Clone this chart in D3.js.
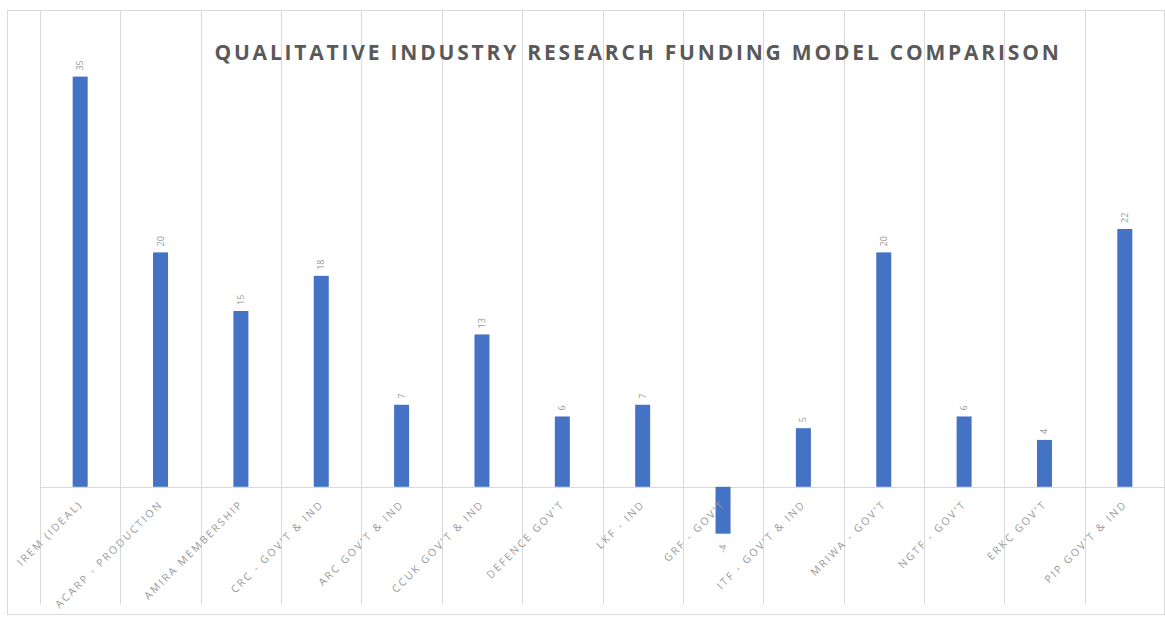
<!DOCTYPE html>
<html>
<head>
<meta charset="utf-8">
<script src="https://cdn.jsdelivr.net/npm/d3@7"></script>
<style>
  body { margin: 0; background: #fff; }
  text { font-family: "Open Sans", sans-serif; }
</style>
</head>
<body>
<div class="chart"></div>
<script>
// Data.
const categories = [
  'IREM (IDEAL)', 'ACARP - PRODUCTION', 'AMIRA MEMBERSHIP', "CRC - GOV'T & IND",
  "ARC GOV'T & IND", "CCUK GOV'T & IND", "DEFENCE GOV'T", 'LKF - IND',
  "GRF - GOV'T", "ITF - GOV'T & IND", "MRIWA - GOV'T", "NGTF - GOV'T",
  "ERKC GOV'T", "PIP GOV'T & IND"
];
const values = [35, 20, 15, 18, 7, 13, 6, 7, -4, 5, 20, 6, 4, 22];
const yDomain = [-10, 40];

const chartData = categories.map((c, i) => ({category: c, value: values[i]}));

// Layout.
const W = 1165, H = 622;
const plot = {left: 40, right: 1165, top: 10, bottom: 604};

const svg = d3.select('.chart')
  .append('svg')
  .attr('width', W)
  .attr('height', H);

// Scales.
const xScale = d3.scaleBand()
  .domain(categories)
  .range([plot.left, plot.right])
  .paddingInner(0)
  .paddingOuter(0);

const yScale = d3.scaleLinear()
  .domain(yDomain)
  .range([604, 18]);

// Frame.
svg.append('rect')
  .attr('x', 7.5).attr('y', 10.5)
  .attr('width', W - 8).attr('height', 604)
  .attr('fill', 'none')
  .attr('stroke', '#d9d9d9');

// Vertical gridlines at category boundaries.
const bounds = categories.map(c => xScale(c));
svg.append('g')
  .selectAll('line')
  .data(bounds)
  .enter()
  .append('line')
  .attr('x1', d => Math.round(d) + 0.5)
  .attr('x2', d => Math.round(d) + 0.5)
  .attr('y1', plot.top)
  .attr('y2', plot.bottom)
  .attr('stroke', '#d9d9d9');

// Zero line.
svg.append('line')
  .attr('x1', plot.left).attr('x2', plot.right)
  .attr('y1', Math.round(yScale(0)) + 0.5)
  .attr('y2', Math.round(yScale(0)) + 0.5)
  .attr('stroke', '#d9d9d9');

// Title.
svg.append('text')
  .attr('x', 638)
  .attr('y', 60)
  .attr('text-anchor', 'middle')
  .style('font-size', '21px')
  .style('font-weight', 'bold')
  .style('letter-spacing', '2.8px')
  .style('fill', '#595959')
  .text('QUALITATIVE INDUSTRY RESEARCH FUNDING MODEL COMPARISON');

// Bars.
const barW = 15;
svg.append('g')
  .selectAll('rect')
  .data(chartData)
  .enter()
  .append('rect')
  .attr('x', d => xScale(d.category) + xScale.bandwidth() / 2 - barW / 2)
  .attr('y', d => yScale(Math.max(0, d.value)))
  .attr('width', barW)
  .attr('height', d => Math.abs(yScale(d.value) - yScale(0)))
  .style('fill', '#4472c4');

// Value labels.
svg.append('g')
  .selectAll('text')
  .data(chartData)
  .enter()
  .append('text')
  .attr('transform', d => {
    const cx = xScale(d.category) + xScale.bandwidth() / 2;
    const y = d.value >= 0 ? yScale(d.value) - 6 : yScale(d.value) + 11;
    return `translate(${cx + 3},${y}) rotate(-90)`;
  })
  .attr('text-anchor', d => d.value >= 0 ? 'start' : 'end')
  .style('font-size', '9px')
  .style('fill', '#999')
  .text(d => d.value);

// Category labels.
svg.append('g')
  .selectAll('text')
  .data(chartData)
  .enter()
  .append('text')
  .attr('transform', d => {
    const cx = xScale(d.category) + xScale.bandwidth() / 2;
    return `translate(${cx + 3},${yScale(0) + 18}) rotate(-45)`;
  })
  .attr('text-anchor', 'end')
  .style('font-size', '10.5px')
  .style('letter-spacing', '2.1px')
  .style('fill', '#999')
  .text(d => d.category);
</script>
</body>
</html>
